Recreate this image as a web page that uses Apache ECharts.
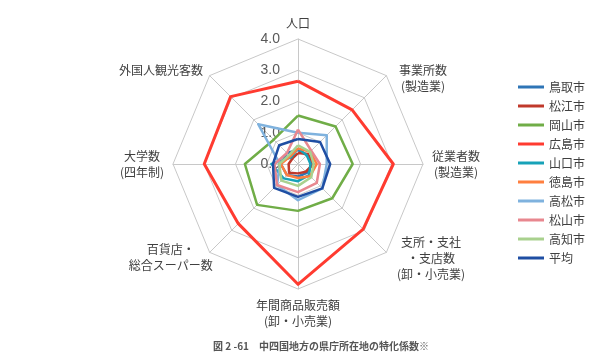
<!DOCTYPE html>
<html><head><meta charset="utf-8">
<script src="https://cdn.jsdelivr.net/npm/echarts@6/dist/echarts.min.js"></script>
<style>html,body{margin:0;padding:0;background:#fff}#c{width:600px;height:360px}</style>
</head><body><div id="c"></div>
<script>
// indicators listed clockwise from top (as in the reference)
const indicators = ['人口','事業所数\n(製造業)','従業者数\n(製造業)','支所・支社\n・支店数\n(卸・小売業)','年間商品販売額\n(卸・小売業)','百貨店・\n総合スーパー数','大学数\n(四年制)','外国人観光客数'];
const cities = ['鳥取市','松江市','岡山市','広島市','山口市','徳島市','高松市','松山市','高知市','平均'];
const colors = ['#2e75b6','#c0392b','#70ad47','#ff3b30','#17a2b8','#ff7f3f','#7fb2de','#e8878f','#a9d18e','#1f4ea3'];
const tottori  = [0.45,0.40,0.45,0.40,0.40,0.50,0.55,0.50];
const matsue   = [0.35,0.45,0.50,0.35,0.30,0.40,0.30,0.25];
const okayama  = [1.55,1.70,1.75,1.55,1.50,1.85,1.70,1.10];
const hiroshima= [2.65,2.45,3.05,2.95,3.85,2.70,3.00,3.05];
const yamaguchi= [0.50,0.40,0.40,0.50,0.55,0.65,0.85,0.30];
const tokushima= [0.50,0.55,0.60,0.55,0.45,0.50,0.55,0.35];
const takamatsu= [1.00,1.30,0.92,1.10,1.16,0.95,0.58,1.80];
const matsuyama= [1.10,0.60,0.70,0.85,0.90,0.95,0.75,0.50];
const kochi    = [0.60,0.55,0.50,0.60,0.70,0.75,0.60,0.40];
const average  = [0.80,1.00,1.03,1.10,1.05,1.08,0.80,0.85];
const seriesData = [tottori,matsue,okayama,hiroshima,yamaguchi,tokushima,takamatsu,matsuyama,kochi,average];
const tickLabels = ['0.0','1.0','2.0','3.0','4.0'];
const caption = '図 2 -61　中四国地方の県庁所在地の特化係数※';

const FONT = '"Noto Sans CJK JP"';
// label nudges (style only), keyed by indicator index in the clockwise list
const nameStyle = {
  1:{padding:[16,0,0,6]},
  3:{padding:[0,0,0,4]},
  5:{padding:[18,0,0,0], nameGap:-6}
};
const cv = document.createElement('canvas').getContext('2d');
cv.font = '12px ' + FONT;
const rich = {};
indicators.forEach((n,i)=>{
  const w = Math.max(...n.split('\n').map(l=>cv.measureText(l).width));
  rich['w'+i] = {width:Math.ceil(w)+1, align:'center', fontSize:12, lineHeight:16, color:'#404040', fontFamily:FONT};
});

// ECharts radar runs counter-clockwise: reorder so the picture reads clockwise
const order = [0,7,6,5,4,3,2,1];
const chart = echarts.init(document.getElementById('c'));
const ind = order.map((k,i)=>{
  const o = {name:indicators[k], min:0, max:4};
  const s = nameStyle[k];
  if(s){ if(s.padding) o.nameTextStyle = {padding:s.padding}; if(s.nameGap!==undefined) o.nameGap = s.nameGap; }
  if(i===0){ o.axisLabel = {show:true, formatter:(v)=>tickLabels[Math.round(v)], color:'#595959', fontSize:14, margin:18}; }
  return o;
});
chart.setOption({
  animation:false,
  color:colors,
  title:{text:caption, left:316, textAlign:'center', bottom:4, textStyle:{fontSize:10, fontWeight:'bold', color:'#555', fontFamily:FONT}},
  legend:{orient:'vertical', left:513, top:76, itemWidth:26, itemHeight:3, itemGap:7, icon:'rect',
    textStyle:{fontSize:12, color:'#404040', fontFamily:FONT}, data:cities},
  radar:{
    center:[298,164], radius:125, startAngle:90, splitNumber:4, shape:'polygon',
    indicator:ind,
    axisName:{color:'#404040', fontSize:12, fontFamily:FONT, lineHeight:16, rich:rich,
      formatter:(name)=>{ const k = indicators.indexOf(name); return name.split('\n').map(l=>'{w'+k+'|'+l+'}').join('\n'); }},
    nameGap:8,
    axisLine:{lineStyle:{color:'#c8c8c8', width:1}},
    splitLine:{lineStyle:{color:'#c8c8c8', width:1}},
    splitArea:{show:false},
    axisLabel:{show:false}
  },
  series:[{type:'radar', symbol:'none',
    data: seriesData.map((d,i)=>({name:cities[i], value:order.map(k=>d[k]), lineStyle:{width: i===3?3:2.5, color:colors[i]}, itemStyle:{color:colors[i]}}))
  }]
});
</script></body></html>
